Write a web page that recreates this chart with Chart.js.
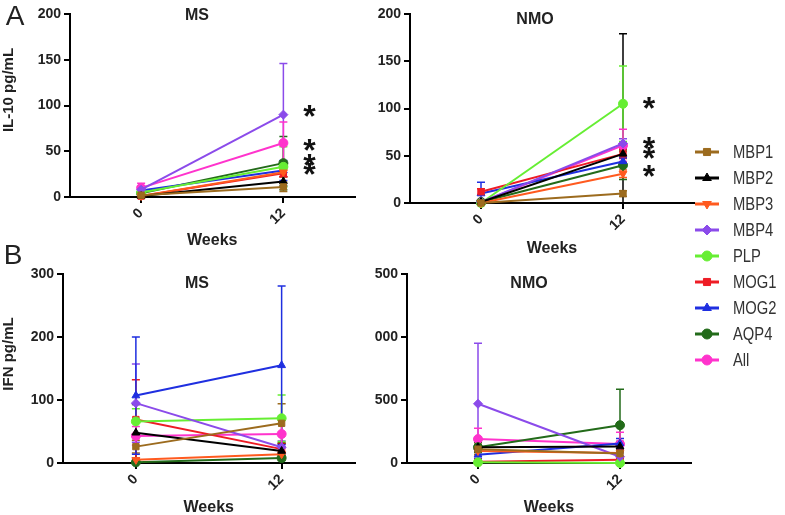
<!DOCTYPE html>
<html>
<head>
<meta charset="utf-8">
<title>IL-10 / IFN by peptide</title>
<script src="https://cdn.jsdelivr.net/npm/chart.js@4.4.1/dist/chart.umd.min.js"></script>
<style>
  html, body { margin: 0; padding: 0; background: #fff; }
  body { width: 785px; height: 515px; position: relative; overflow: hidden; }
  canvas.panel { position: absolute; }
  #legend { position: absolute; left: 693px; top: 140px; width: 92px; height: 240px;
            font-family: "Liberation Sans", Arial, sans-serif; font-size: 18px; color: #333; }
  .lg-item { position: absolute; left: 0; height: 24px; line-height: 24px; white-space: nowrap; }
  .lg-item canvas { position: absolute; left: 0; top: 4px; }
  .lg-item span { position: absolute; left: 40px; top: 0; transform: scaleX(0.82); transform-origin: 0 50%; }
</style>
</head>
<body>
<canvas class="panel" id="il10Ms"  width="360" height="255" style="left:0;top:0"></canvas>
<canvas class="panel" id="il10Nmo" width="360" height="258" style="left:340px;top:0"></canvas>
<canvas class="panel" id="ifnMs"   width="360" height="277" style="left:0;top:240px"></canvas>
<canvas class="panel" id="ifnNmo"  width="360" height="277" style="left:340px;top:240px"></canvas>
<div id="legend"></div>

<script>
/* ─────────────────────────────────────────────
   DATA
───────────────────────────────────────────── */
const weeks  = ['0', '12'];
const series = ['MBP1', 'MBP2', 'MBP3', 'MBP4', 'PLP', 'MOG1', 'MOG2', 'AQP4', 'All'];

// [week 0, week 12] per series, in pg/mL
const il10Ms     = [[2, 11], [1, 17], [1, 27], [8, 90], [5, 33], [1, 26], [7, 29], [4, 37], [10, 59]];
const il10MsErr  = [[2, 5], [1, 5], [1, 5], [4, 56], [3, 22], [2, 4], [3, 11], [3, 29], [5, 23]];
const il10Nmo    = [[0, 10], [1, 52], [0, 31], [1, 63], [0, 105], [12, 52], [10, 44], [1, 40], [1, 61]];
const il10NmoErr = [[1, 3], [1, 127], [1, 4], [1, 5], [1, 40], [3, 5], [12, 4], [1, 15], [1, 17]];
const ifnMs      = [[26, 63], [48, 19], [5, 14], [95, 25], [66, 71], [69, 22], [107, 155], [1, 8], [43, 46]];
const ifnMsErr   = [[10, 31], [45, 12], [3, 4], [62, 10], [20, 37], [63, 8], [93, 126], [1, 4], [15, 22]];
const ifnNmo     = [[110, 75], [125, 130], [95, 80], [470, 50], [5, 0], [10, 25], [65, 155], [125, 300], [190, 150]];
const ifnNmoErr  = [[40, 30], [40, 40], [40, 30], [480, 30], [5, 5], [10, 10], [30, 40], [40, 285], [85, 95]];

// significance stars at week 12 (value level of each star)
const il10MsStars  = [95, 58, 41.5, 32];
const il10NmoStars = [107, 64.5, 54, 35];

// tick labels as printed (the NMO IFN axis is cut off on the left)
const ifnNmoTicks = ['0', '500', '000', '500'];

/* ─────────────────────────────────────────────
   STYLE
───────────────────────────────────────────── */
const colors    = ['#9C6B1E', '#000000', '#FF5A1F', '#8B4BEA', '#66EE33', '#EE1C25', '#1F2FE0', '#236B1A', '#FF33CC'];
const markers   = ['rect', 'triangle', 'triangle', 'rectRot', 'circle', 'rect', 'triangle', 'circle', 'circle'];
const rotations = [0, 0, 180, 0, 0, 0, 0, 0, 0];

const FONT = '"Liberation Sans", Arial, Helvetica, sans-serif';
Chart.defaults.font.family = FONT;
Chart.defaults.color = '#222';

/* ─────────────────────────────────────────────
   PLUGINS
───────────────────────────────────────────── */
const errorBars = {
  id: 'errorBars',
  beforeDatasetsDraw(chart) {
    const ctx = chart.ctx;
    const yScale = chart.scales.y;
    chart.data.datasets.forEach((ds, i) => {
      if (!ds.errors) return;
      const meta = chart.getDatasetMeta(i);
      ctx.save();
      ctx.strokeStyle = ds.borderColor;
      ctx.lineWidth = 1.5;
      meta.data.forEach((pt, j) => {
        const v = ds.data[j], e = ds.errors[j];
        if (!e) return;
        const top = yScale.getPixelForValue(v + e);
        const bot = yScale.getPixelForValue(Math.max(0, v - e));
        ctx.beginPath();
        ctx.moveTo(pt.x, top);     ctx.lineTo(pt.x, bot);
        ctx.moveTo(pt.x - 4, top); ctx.lineTo(pt.x + 4, top);
        ctx.moveTo(pt.x - 4, bot); ctx.lineTo(pt.x + 4, bot);
        ctx.stroke();
      });
      ctx.restore();
    });
  },
};

function textPlugin(items) {
  return {
    id: 'panelText',
    afterDraw(chart) {
      const ctx = chart.ctx;
      items.forEach((it) => {
        let x = it.x, y = it.y;
        if (it.value !== undefined) {
          x = chart.scales.x.getPixelForValue(it.cat) + it.dx;
          y = chart.scales.y.getPixelForValue(it.value) + (it.dy || 0);
        }
        ctx.save();
        ctx.font = it.font;
        ctx.fillStyle = it.color || '#222';
        ctx.textAlign = 'center';
        ctx.textBaseline = 'middle';
        ctx.translate(x, y);
        if (it.angle) ctx.rotate(it.angle);
        ctx.fillText(it.text, 0, 0);
        ctx.restore();
      });
    },
  };
}

function stars(values) {
  return values.map((v) => ({ text: '*', cat: 1, dx: 26, value: v, dy: 8, font: `bold 32px ${FONT}`, color: '#111' }));
}

/* ─────────────────────────────────────────────
   PANEL BUILDER
───────────────────────────────────────────── */
function buildPanel(id, values, errors, yMax, yStep, cfg) {
  const canvas = document.getElementById(id);
  const tickFont = { family: FONT, size: 14, weight: 'bold' };
  const axisGrid = { drawOnChartArea: false, drawTicks: true, tickLength: 6, color: '#000', lineWidth: 2 };

  return new Chart(canvas, {
    type: 'line',
    data: {
      labels: weeks,
      datasets: series.map((name, i) => ({
        label: name,
        data: values[i],
        errors: errors[i],
        borderColor: colors[i],
        backgroundColor: colors[i],
        pointStyle: markers[i],
        pointRotation: rotations[i],
        pointRadius: 4.5,
        pointHoverRadius: 4.5,
        pointBorderWidth: 1,
        borderWidth: 2,
        clip: false,
      })),
    },
    options: {
      responsive: false,
      animation: false,
      events: [],
      layout: { padding: cfg.padding },
      plugins: { legend: { display: false }, tooltip: { enabled: false } },
      scales: {
        x: {
          offset: true,
          grid: axisGrid,
          border: { color: '#000', width: 2 },
          ticks: { minRotation: 45, maxRotation: 45, font: tickFont, color: '#222', padding: 2 },
          title: {
            display: true, text: 'Weeks', color: '#222',
            font: { family: FONT, size: 16, weight: 'bold' },
            padding: { top: 0, bottom: cfg.weeksPad },
          },
          afterFit: (s) => { s.height = cfg.xHeight; },
        },
        y: {
          min: 0,
          max: yMax,
          grid: axisGrid,
          border: { color: '#000', width: 2 },
          ticks: {
            stepSize: yStep, font: tickFont, color: '#222', padding: 3,
            callback: (v, i) => (cfg.yTicks ? cfg.yTicks[i] : v),
          },
          afterFit: (s) => { s.width = cfg.yWidth; },
        },
      },
    },
    plugins: [errorBars, textPlugin(cfg.texts)],
  });
}

/* ─────────────────────────────────────────────
   PANELS
───────────────────────────────────────────── */
const titleFont  = `bold 16px ${FONT}`;
const letterFont = `28px ${FONT}`;
const yTitleFont = `bold 15px ${FONT}`;

buildPanel('il10Ms', il10Ms, il10MsErr, 200, 50, {
  padding: { left: 0, top: 14, right: 4, bottom: 0 },
  yWidth: 70, xHeight: 58, weeksPad: 5,
  texts: [
    { text: 'A', x: 15, y: 17, font: letterFont },
    { text: 'MS', x: 197, y: 16, font: titleFont },
    { text: 'IL-10 pg/mL', x: 9, y: 90, angle: -Math.PI / 2, font: yTitleFont },
    ...stars(il10MsStars),
  ],
});

buildPanel('il10Nmo', il10Nmo, il10NmoErr, 200, 50, {
  padding: { left: 0, top: 14, right: 6, bottom: 0 },
  yWidth: 70, xHeight: 55, weeksPad: 0,
  texts: [
    { text: 'NMO', x: 195, y: 20, font: titleFont },
    ...stars(il10NmoStars),
  ],
});

buildPanel('ifnMs', ifnMs, ifnMsErr, 300, 100, {
  padding: { left: 0, top: 34, right: 5, bottom: 0 },
  yWidth: 63, xHeight: 54, weeksPad: 0,
  texts: [
    { text: 'B', x: 13, y: 16, font: letterFont },
    { text: 'MS', x: 197, y: 44, font: titleFont },
    { text: 'IFN pg/mL', x: 9, y: 114, angle: -Math.PI / 2, font: yTitleFont },
  ],
});

buildPanel('ifnNmo', ifnNmo, ifnNmoErr, 1500, 500, {
  padding: { left: 0, top: 34, right: 9, bottom: 0 },
  yWidth: 67, xHeight: 54, weeksPad: 0, yTicks: ifnNmoTicks,
  texts: [
    { text: 'NMO', x: 189, y: 44, font: titleFont },
  ],
});

/* ─────────────────────────────────────────────
   LEGEND
───────────────────────────────────────────── */
function drawLegendMarker(c, i) {
  const ctx = c.getContext('2d');
  ctx.strokeStyle = colors[i];
  ctx.fillStyle = colors[i];
  ctx.lineWidth = 3;
  ctx.beginPath();
  ctx.moveTo(2, 8); ctx.lineTo(26, 8);
  ctx.stroke();
  if (Chart.helpers && Chart.helpers.drawPoint) {
    ctx.lineWidth = 1;
    Chart.helpers.drawPoint(ctx, { pointStyle: markers[i], radius: 5, rotation: rotations[i], borderWidth: 1 }, 14, 8);
  } else {
    ctx.fillRect(9, 3, 10, 10);
  }
}

const legendEl = document.getElementById('legend');
series.forEach((name, i) => {
  const row = document.createElement('div');
  row.className = 'lg-item';
  row.style.top = (i * 26) + 'px';
  const c = document.createElement('canvas');
  c.width = 30; c.height = 16;
  drawLegendMarker(c, i);
  const span = document.createElement('span');
  span.textContent = name;
  row.append(c, span);
  legendEl.appendChild(row);
});
</script>
</body>
</html>
